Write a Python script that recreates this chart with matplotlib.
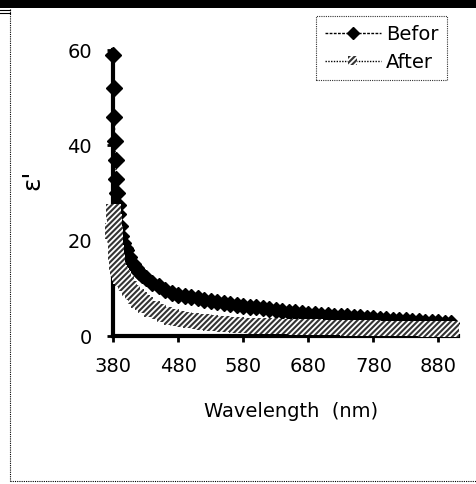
import matplotlib
matplotlib.use("Agg")
import matplotlib.pyplot as plt
from matplotlib.lines import Line2D
from matplotlib.patches import Rectangle

plt.rcParams['font.family'] = ['DejaVu Sans']
plt.rcParams['hatch.linewidth'] = 1.5

# ---- data ----
befor_wl = [380, 381, 382, 383, 384, 385, 386, 387, 388, 390, 392, 395, 398, 400,
            405, 410, 415, 420, 425, 430, 440, 450, 460, 470, 480, 490, 500, 510,
            520, 530, 540, 550, 560, 570, 580, 590, 600, 610, 620, 630, 640, 650,
            660, 670, 680, 690, 700, 710, 720, 730, 740, 750, 760, 770, 780, 790,
            800, 810, 820, 830, 840, 850, 860, 870, 880, 890, 900]
befor_eps = [59.0, 52.0, 46.0, 41.0, 37.0, 33.0, 30.0, 27.5, 25.5, 23.0, 21.0, 19.5, 18.5, 18.0,
             16.5, 15.2, 14.2, 13.4, 12.8, 12.2, 11.2, 10.4, 9.7, 9.1, 8.7, 8.4, 8.2, 7.9,
             7.6, 7.3, 7.1, 6.9, 6.7, 6.5, 6.3, 6.1, 6.0, 5.8, 5.7, 5.5, 5.3, 5.1,
             5.0, 4.9, 4.7, 4.6, 4.5, 4.4, 4.3, 4.2, 4.1, 4.0, 3.9, 3.8, 3.7, 3.6,
             3.5, 3.4, 3.4, 3.3, 3.2, 3.1, 3.0, 3.0, 2.9, 2.8, 2.8]

after_wl = [380, 381, 382, 383, 384, 385, 386, 387, 388, 390, 392, 395, 400, 405,
            410, 415, 420, 425, 430, 440, 450, 460, 470, 480, 490, 500, 510, 520,
            530, 540, 550, 560, 570, 580, 590, 600, 610, 620, 630, 640, 650, 660,
            670, 680, 690, 700, 710, 720, 730, 740, 750, 760, 770, 780, 790, 800,
            810, 820, 830, 840, 850, 860, 870, 880, 890, 900]
after_eps = [22.0, 26.0, 24.0, 21.5, 19.5, 17.5, 15.5, 14.6, 14.0, 13.2, 12.6, 12.0, 11.0, 10.0,
             9.1, 8.3, 7.6, 7.0, 6.5, 5.7, 5.1, 4.5, 4.0, 3.7, 3.45, 3.25, 3.05, 2.9,
             2.75, 2.6, 2.5, 2.4, 2.3, 2.25, 2.2, 2.15, 2.1, 2.05, 2.0, 2.0, 1.95, 1.9,
             1.9, 1.85, 1.85, 1.8, 1.8, 1.75, 1.75, 1.7, 1.7, 1.7, 1.65, 1.65, 1.6, 1.6,
             1.6, 1.6, 1.55, 1.55, 1.55, 1.5, 1.5, 1.5, 1.5, 1.5]

x_ticks = [380, 480, 580, 680, 780, 880]
y_ticks = [0, 20, 40, 60]
series_names = ["Befor", "After"]
x_label = "Wavelength  (nm)"
y_label = "ε'"

HATCH_COLOR = '#333333'


class HatchMarkerHandler:
    """Legend handle: dotted line with a hatched square in the middle."""
    def legend_artist(self, legend, orig_handle, fontsize, handlebox):
        x0, y0 = handlebox.xdescent, handlebox.ydescent
        w, h = handlebox.width, handlebox.height
        line = Line2D([x0, x0 + w], [y0 + h / 2, y0 + h / 2], color='black',
                      ls=(0, (1, 1)), lw=1, transform=handlebox.get_transform())
        sq = 0.7 * h
        rect = Rectangle((x0 + w / 2 - sq / 2, y0 + h / 2 - sq / 2), sq, sq,
                         facecolor='white', edgecolor=HATCH_COLOR, lw=0,
                         hatch='//////', transform=handlebox.get_transform())
        handlebox.add_artist(line)
        handlebox.add_artist(rect)
        return rect


W, H = 476, 484
fig = plt.figure(figsize=(W / 100, H / 100), dpi=100)
fig.patch.set_facecolor('white')

# figure decorations (page frame)
fig.patches.append(Rectangle((0, 1 - 8 / H), 1, 8 / H, transform=fig.transFigure,
                             facecolor='black', edgecolor='none'))
fig.add_artist(Line2D([10 / W, 10 / W], [1 - 9 / H, 3 / H], transform=fig.transFigure,
                      color='black', lw=0.8, ls=(0, (1, 1))))
fig.add_artist(Line2D([10 / W, 1], [3 / H, 3 / H], transform=fig.transFigure,
                      color='black', lw=0.8, ls=(0, (1, 1))))
fig.add_artist(Line2D([0, 10 / W], [1 - 10 / H, 1 - 10 / H], transform=fig.transFigure,
                      color='black', lw=0.8))
fig.add_artist(Line2D([0, 10 / W], [1 - 13 / H, 1 - 13 / H], transform=fig.transFigure,
                      color='black', lw=0.8))

left, right = 113 / W, 458 / W
bottom, top = 1 - 336 / H, 1 - 50 / H
ax = fig.add_axes([left, bottom, right - left, top - bottom])

ax.plot(befor_wl, befor_eps, color='black', ls=':', lw=1.0, marker='D',
        markersize=8, markerfacecolor='black', markeredgecolor='black',
        clip_on=False, zorder=3)
ax.plot(after_wl, after_eps, color='black', ls=':', lw=1.0, zorder=4, clip_on=False)
ax.scatter(after_wl, after_eps, marker='s', s=125, facecolor='white',
           edgecolor=HATCH_COLOR, linewidths=0, hatch='//////', zorder=5,
           clip_on=False)

ax.set_xlim(380, 910)
ax.set_ylim(0, 60)
ax.set_xticks(x_ticks)
ax.set_yticks(y_ticks)
for s in ['top', 'right']:
    ax.spines[s].set_visible(False)
for s in ['left', 'bottom']:
    ax.spines[s].set_linewidth(3)
ax.tick_params(axis='x', direction='out', length=4, width=2, pad=11, labelsize=14)
ax.tick_params(axis='y', direction='out', length=4, width=2, pad=11, labelsize=14)

ax.set_xlabel(x_label, fontsize=14)
ax.xaxis.set_label_coords(0.516, -0.232)
ax.set_ylabel(y_label, fontsize=18, rotation=90)
ax.yaxis.set_label_coords(-0.2, 0.545)

# legend
h1 = Line2D([], [], color='black', ls=(0, (2, 1)), lw=1, marker='D', markersize=6,
            markerfacecolor='black')
h2 = object()
leg = fig.legend([h1, h2], series_names, loc='upper right',
                 bbox_to_anchor=(447 / W, 1 - 16 / H), bbox_transform=fig.transFigure,
                 borderaxespad=0, fancybox=False, fontsize=14, handlelength=2.9,
                 handletextpad=0.25, labelspacing=0.45, borderpad=0.45,
                 handler_map={object: HatchMarkerHandler()})
fr = leg.get_frame()
fr.set_edgecolor('black')
fr.set_linestyle((0, (1, 1)))
fr.set_linewidth(0.8)

fig.savefig("out.png", dpi=100, facecolor='white')
